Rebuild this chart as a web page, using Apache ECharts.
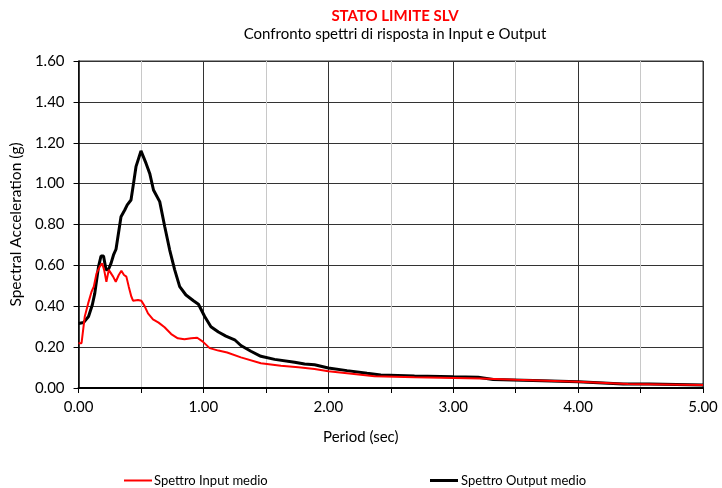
<!DOCTYPE html>
<html>
<head>
<meta charset="utf-8">
<script src="https://cdn.jsdelivr.net/npm/echarts@6/dist/echarts.min.js"></script>
<style>
  html, body { margin: 0; padding: 0; background: #fff; }
  #chart { width: 722px; height: 488px; }
</style>
</head>
<body>
<div id="chart"></div>
<script>
// Periods (s) and spectral accelerations (g) of the mean input spectrum
const periodInput = [0, 0.024, 0.05, 0.077, 0.104, 0.122, 0.144, 0.17, 0.189, 0.205, 0.223, 0.242, 0.258, 0.277, 0.298, 0.322, 0.343, 0.364, 0.383, 0.402, 0.423, 0.436, 0.476, 0.503, 0.529, 0.556, 0.596, 0.641, 0.689, 0.742, 0.795, 0.848, 0.902, 0.95, 0.995, 1.05, 1.12, 1.19, 1.30, 1.46, 1.62, 1.76, 1.89, 2.00, 2.15, 2.37, 2.69, 3.22, 3.5, 4.0, 4.4, 5.0];
const accInput = [0.219, 0.219, 0.35, 0.414, 0.471, 0.496, 0.561, 0.594, 0.61, 0.578, 0.52, 0.578, 0.586, 0.545, 0.52, 0.553, 0.574, 0.553, 0.545, 0.496, 0.447, 0.427, 0.431, 0.427, 0.401, 0.365, 0.336, 0.32, 0.297, 0.264, 0.243, 0.238, 0.243, 0.246, 0.227, 0.195, 0.183, 0.174, 0.15, 0.121, 0.109, 0.101, 0.093, 0.082, 0.072, 0.057, 0.052, 0.046, 0.040, 0.030, 0.020, 0.015];

// Periods (s) and spectral accelerations (g) of the mean output spectrum
const periodOutput = [0, 0.04, 0.08, 0.11, 0.13, 0.16, 0.18, 0.20, 0.22, 0.24, 0.26, 0.28, 0.30, 0.34, 0.37, 0.39, 0.42, 0.44, 0.46, 0.50, 0.54, 0.57, 0.60, 0.65, 0.69, 0.73, 0.77, 0.81, 0.86, 0.92, 0.96, 1.01, 1.06, 1.12, 1.18, 1.25, 1.30, 1.38, 1.46, 1.57, 1.73, 1.81, 1.89, 2.00, 2.15, 2.31, 2.42, 2.69, 3.00, 3.20, 3.32, 3.64, 4.00, 4.36, 4.57, 5.00];
const accOutput = [0.316, 0.32, 0.35, 0.406, 0.463, 0.594, 0.646, 0.646, 0.578, 0.581, 0.61, 0.651, 0.679, 0.838, 0.871, 0.896, 0.92, 1.0, 1.083, 1.16, 1.10, 1.05, 0.969, 0.912, 0.79, 0.675, 0.578, 0.496, 0.455, 0.427, 0.41, 0.35, 0.30, 0.274, 0.254, 0.236, 0.208, 0.18, 0.155, 0.14, 0.126, 0.117, 0.114, 0.098, 0.085, 0.072, 0.064, 0.059, 0.055, 0.053, 0.042, 0.037, 0.030, 0.020, 0.020, 0.015];

const seriesNames = ['Spettro Input medio', 'Spettro Output medio'];
const chartTitle = 'STATO LIMITE SLV';
const chartSubtitle = 'Confronto spettri di risposta in Input e Output';
const xAxisName = 'Period (sec)';
const yAxisName = 'Spectral Acceleration (g)';

const FONT = 'Lato';
const pairs = (xs, ys) => xs.map((x, i) => [x, ys[i]]);

const chart = echarts.init(document.getElementById('chart'), null, { renderer: 'canvas' });
chart.setOption({
  animation: false,
  backgroundColor: '#fff',
  textStyle: { fontFamily: FONT },
  title: [
    { text: chartTitle, left: 390, top: 4, textAlign: 'center',
      textStyle: { color: '#ff0000', fontWeight: 'bold', fontSize: 15, fontFamily: FONT } },
    { text: chartSubtitle, left: 390, top: 22, textAlign: 'center',
      textStyle: { color: '#000', fontWeight: 'normal', fontSize: 15, fontFamily: FONT } }
  ],
  legend: [
    { data: [seriesNames[0]], left: 119, top: 469, icon: 'rect', itemWidth: 28, itemHeight: 2,
      textStyle: { fontSize: 13, color: '#000', fontFamily: FONT, padding: [0, 0, 0, -3] } },
    { data: [seriesNames[1]], left: 425, top: 469, icon: 'rect', itemWidth: 28, itemHeight: 3,
      textStyle: { fontSize: 13, color: '#000', fontFamily: FONT, padding: [0, 0, 0, -2] } }
  ],
  grid: { left: 77, right: 19, top: 61, bottom: 100, containLabel: false,
          show: true, borderColor: '#333', borderWidth: 1 },
  xAxis: {
    type: 'value', min: 0, max: 5, interval: 1,
    name: xAxisName, nameLocation: 'middle', nameGap: 42,
    // axis title sits a little left of the plot centre
    nameTextStyle: { fontSize: 15, color: '#000', fontFamily: FONT, padding: [0, 60, 0, 0] },
    axisLine: { show: true, onZero: false, lineStyle: { color: '#000', width: 2 } },
    axisTick: { show: true, inside: false, length: 5, lineStyle: { color: '#000' } },
    minorTick: { show: true, splitNumber: 2, length: 5, lineStyle: { color: '#000' } },
    axisLabel: { margin: 12, fontSize: 15, color: '#000', fontFamily: FONT,
                 formatter: v => v.toFixed(2) },
    splitLine: { show: true, lineStyle: { color: '#333', width: 1 } },
    minorSplitLine: { show: true, lineStyle: { color: '#c8c8c8', width: 1 } }
  },
  yAxis: {
    type: 'value', min: 0, max: 1.6, interval: 0.2,
    name: yAxisName, nameLocation: 'middle', nameGap: 50,
    nameTextStyle: { fontSize: 15.5, color: '#000', fontFamily: FONT },
    axisLine: { show: true, lineStyle: { color: '#000', width: 1.5 } },
    axisTick: { show: true, inside: false, length: 5, lineStyle: { color: '#000' } },
    axisLabel: { margin: 14, fontSize: 15, color: '#000', fontFamily: FONT,
                 formatter: v => v.toFixed(2) },
    splitLine: { show: true, lineStyle: { color: '#333', width: 1 } }
  },
  series: [
    { name: seriesNames[0], type: 'line', data: pairs(periodInput, accInput),
      showSymbol: false, symbol: 'none', smooth: false,
      lineStyle: { color: '#ff0000', width: 2 }, itemStyle: { color: '#ff0000' }, z: 3 },
    { name: seriesNames[1], type: 'line', data: pairs(periodOutput, accOutput),
      showSymbol: false, symbol: 'none', smooth: false,
      lineStyle: { color: '#000', width: 3 }, itemStyle: { color: '#000' }, z: 2 }
  ]
});
</script>
</body>
</html>
